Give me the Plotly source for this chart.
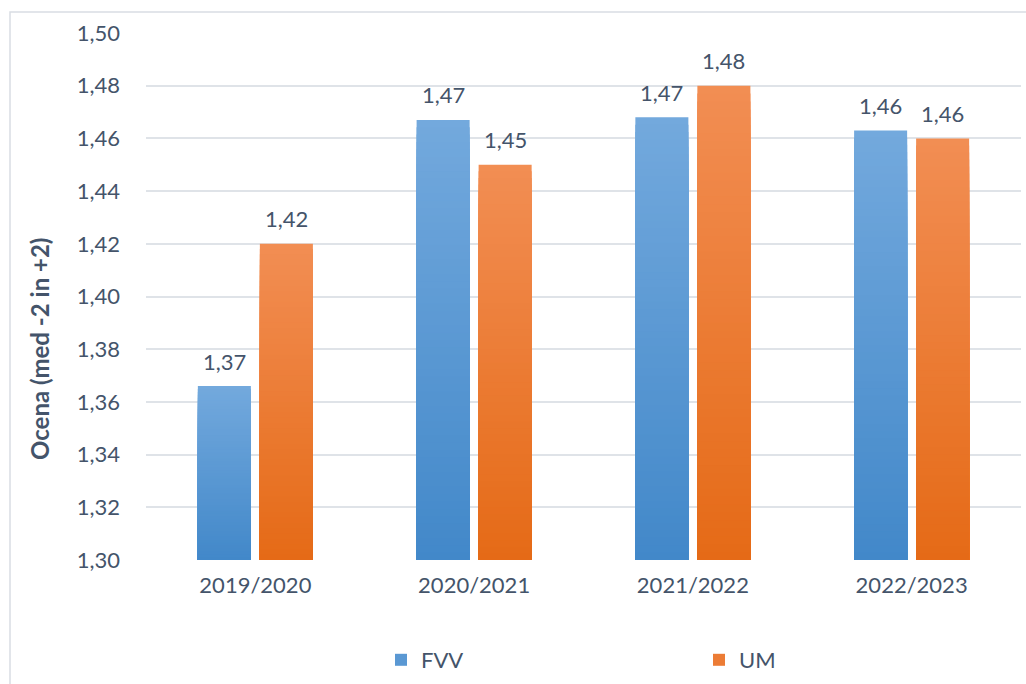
import plotly.graph_objects as go

# Data
categories = ["2019/2020", "2020/2021", "2021/2022", "2022/2023"]
fvv = [1.366, 1.467, 1.468, 1.463]
um = [1.42, 1.45, 1.48, 1.46]
series_names = ["FVV", "UM"]
y_min, y_max, y_step = 1.30, 1.50, 0.02
y_title = "Ocena (med -2 in +2)"

# Style
TEXT = "#44546a"
GRID = "#dfe3e8"
FONT = "Lato"
FS = 22
grad = {
    "FVV": ("#4288c9", "#73a9dd"),   # bottom, top
    "UM": ("#e56a16", "#f28e54"),
}
N_STEPS = 60


def hex_rgb(h):
    h = h.lstrip("#")
    return tuple(int(h[i:i + 2], 16) for i in (0, 2, 4))


def mix(c0, c1, t):
    a, b = hex_rgb(c0), hex_rgb(c1)
    return "rgb(%d,%d,%d)" % tuple(round(a[i] + (b[i] - a[i]) * t) for i in range(3))


L, R, T, B = 146, 5, 33, 124
W, H = 1026, 684
pw, ph = W - L - R, H - T - B

BARGAP, GROUPGAP = 0.433, 0.145
slot_px = pw / len(categories) * (1 - BARGAP) / len(series_names)

fig = go.Figure()
annotations = []

# Each bar is painted as a stack of overlapping, progressively shorter bars
# so that the fill fades from light at the top to dark at the bottom.
for si, (name, values) in enumerate(zip(series_names, [fvv, um])):
    bottom, top = grad[name]
    for k in range(N_STEPS):
        frac = (N_STEPS - k) / N_STEPS
        heights = [y_min + (v - y_min) * frac for v in values]
        fig.add_trace(go.Bar(
            x=categories,
            y=heights,
            name=name,
            offsetgroup=name,
            marker=dict(color=mix(bottom, top, frac - 0.5 / N_STEPS), line=dict(width=0)),
            showlegend=False,
            hoverinfo="skip",
        ))
    # legend entry
    fig.add_trace(go.Bar(
        x=[categories[0]], y=[None], name=name, offsetgroup=name,
        marker=dict(color=mix(bottom, top, 0.5), line=dict(width=0)),
        showlegend=True, hoverinfo="skip",
    ))
    # value labels above each bar
    shift = (si - (len(series_names) - 1) / 2) * slot_px
    for c, v in zip(categories, values):
        annotations.append(dict(
            x=c, y=v, xref="x", yref="y",
            text=f"{v:.2f}".replace(".", ","),
            showarrow=False, xshift=shift, yshift=25,
            xanchor="center", yanchor="middle",
            font=dict(family=FONT, size=FS, color=TEXT),
        ))

# axis title, centred on the full chart height
annotations.append(dict(
    x=(39 - L) / pw, y=(T + ph - 349) / ph, xref="paper", yref="paper",
    text=f"<b>{y_title}</b>", textangle=-90, showarrow=False,
    xanchor="center", yanchor="middle",
    font=dict(family=FONT, size=24, color=TEXT),
))

fig.update_layout(
    width=W, height=H,
    margin=dict(l=L, r=R, t=T, b=B, autoexpand=False),
    paper_bgcolor="white",
    plot_bgcolor="white",
    separators=",.",
    barmode="group",
    bargap=BARGAP,
    bargroupgap=GROUPGAP,
    font=dict(family=FONT, size=FS, color=TEXT),
    legend=dict(
        orientation="h",
        x=(381 - L) / pw, xanchor="left",
        y=(T + ph - 660) / ph, yanchor="middle",
        entrywidth=273, entrywidthmode="pixels",
        font=dict(family=FONT, size=FS, color=TEXT),
        itemclick=False, itemdoubleclick=False,
    ),
    xaxis=dict(
        showgrid=False, showline=False, ticks="",
        ticklabelstandoff=10,
        tickfont=dict(family=FONT, size=FS, color=TEXT),
    ),
    yaxis=dict(
        range=[y_min, y_max],
        tickmode="array",
        tickvals=[round(y_min + i * y_step, 2) for i in range(int(round((y_max - y_min) / y_step)) + 1)],
        tickformat=".2f",
        showgrid=True, gridcolor=GRID, gridwidth=1.5,
        zeroline=False, showline=False, ticks="",
        ticklabelstandoff=25,
        tickfont=dict(family=FONT, size=FS, color=TEXT),
    ),
    annotations=annotations,
    shapes=[dict(
        type="rect", xref="paper", yref="paper",
        x0=(10 - L) / pw, x1=(W + 10 - L) / pw,
        y0=(T + ph - (H + 10)) / ph, y1=(T + ph - 12) / ph,
        line=dict(color="#d9dde3", width=1.5),
        fillcolor="rgba(0,0,0,0)", layer="below",
    )],
)

fig.write_html("out.html")
